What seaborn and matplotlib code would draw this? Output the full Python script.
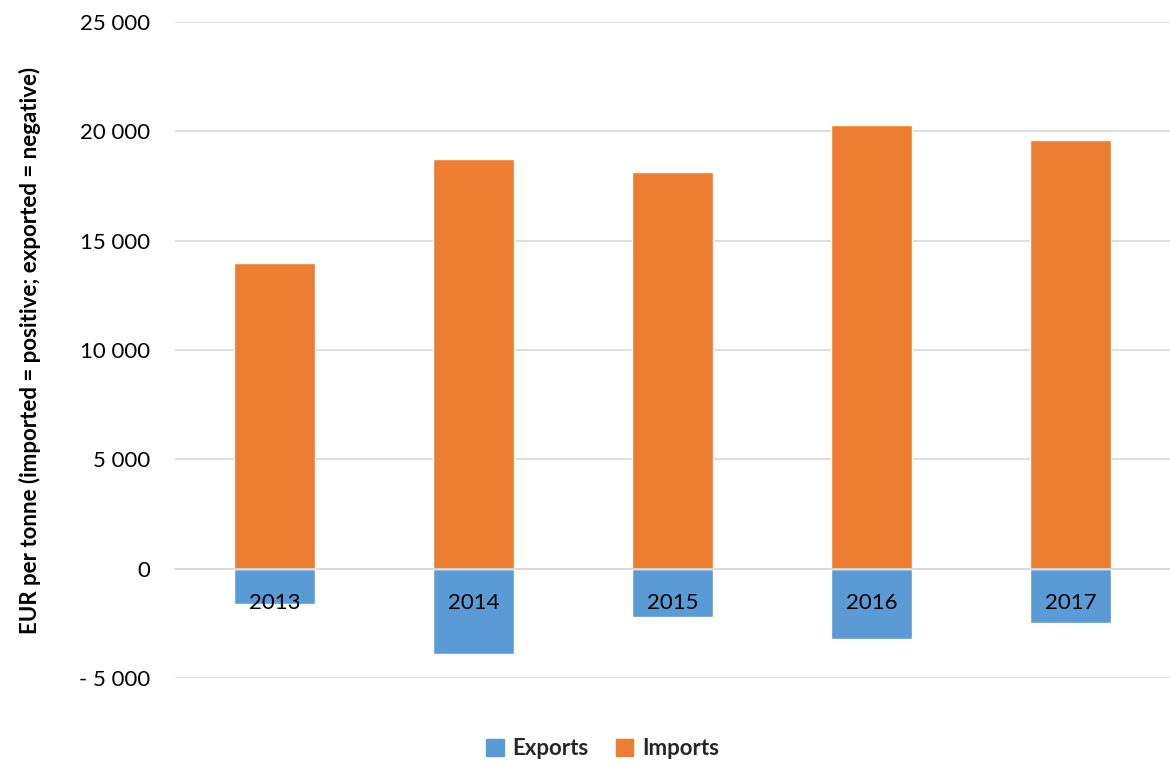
import matplotlib
matplotlib.use("Agg")
import matplotlib.pyplot as plt
import matplotlib.ticker as mticker
import pandas as pd
import seaborn as sns

# values (EUR per tonne)
years = ["2013", "2014", "2015", "2016", "2017"]
exports = [-1600, -3900, -2200, -3200, -2500]
imports = [14000, 18750, 18150, 20300, 19600]

flow_colors = {"Exports": "#5B9BD5", "Imports": "#ED7D31"}

df = pd.DataFrame(
    {
        "year": years * 2,
        "flow": ["Exports"] * len(years) + ["Imports"] * len(years),
        "value": exports + imports,
    }
)

sns.set_theme(style="white")
plt.rcParams["font.family"] = ["Lato", "DejaVu Sans"]

fig = plt.figure(figsize=(11.7, 7.65), dpi=100)
ax = fig.add_axes([0.1496, 0.1137, 0.8504, 0.8575])

sns.barplot(
    data=df, x="year", y="value", hue="flow", dodge=False, width=0.405,
    palette=flow_colors, hue_order=["Exports", "Imports"], ax=ax,
    saturation=1, legend=False,
)

# axes look: light grid, zero line drawn over the bars
ax.set_ylim(-5000, 25000)
ax.set_yticks(range(-5000, 25001, 5000))
ax.yaxis.set_major_formatter(
    mticker.FuncFormatter(
        lambda v, _: ("- " if v < 0 else "") + f"{abs(v):,.0f}".replace(",", " ")
    )
)
ax.grid(axis="y", color="#D9D9D9", linewidth=1.2)
ax.set_axisbelow(True)
for side in ["top", "right", "left"]:
    ax.spines[side].set_visible(False)
ax.spines["bottom"].set_position(("data", 0))
ax.spines["bottom"].set_color("#D9D9D9")
ax.spines["bottom"].set_linewidth(1.2)
ax.tick_params(axis="x", length=0, labelbottom=False)
ax.tick_params(axis="y", length=0, pad=18, labelsize=16, labelcolor="black")
ax.set_xlabel("")
ax.set_ylabel(
    "EUR per tonne (imported = positive; exported = negative)",
    fontsize=16, fontweight="bold", color="black", labelpad=27,
)

# year labels sit just under the zero line, on top of the export bars
for i, yr in enumerate(years):
    ax.annotate(yr, (i, 0), xytext=(0, -25), textcoords="offset points",
                ha="center", va="center", fontsize=16, color="black", zorder=5)

handles = [plt.Rectangle((0, 0), 1, 1, color=flow_colors[k]) for k in ["Exports", "Imports"]]
fig.legend(
    handles, ["Exports", "Imports"], loc="center", bbox_to_anchor=(0.515, 0.021),
    ncol=2, frameon=False, handlelength=0.8, handleheight=0.8, handletextpad=0.4,
    columnspacing=1.2, prop={"weight": "bold", "size": 16},
)

plt.savefig("out.png", dpi=100)
